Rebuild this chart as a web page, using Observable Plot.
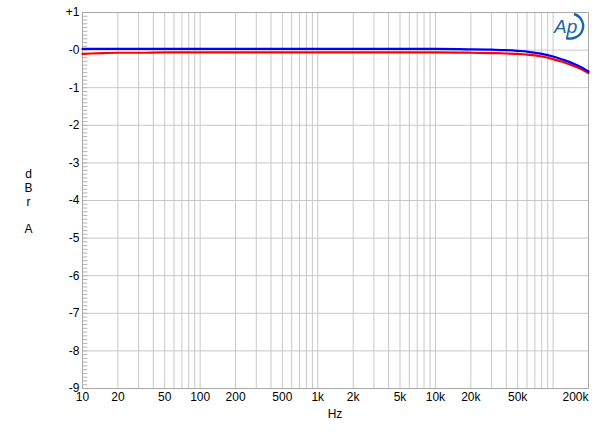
<!DOCTYPE html>
<html>
<head>
<meta charset="utf-8">
<script src="https://cdn.jsdelivr.net/npm/d3@7"></script>
<script src="https://cdn.jsdelivr.net/npm/@observablehq/plot@0.6"></script>
<style>
  html, body { margin: 0; padding: 0; background: #fff; }
  #chart { position: relative; width: 600px; height: 432px; }
  #logo { position: absolute; left: 553px; top: 11px; }
</style>
</head>
<body>
<div id="chart"></div>
<script>
const freqs = [10, 12, 15, 20, 30, 50, 100, 200, 500, 1000, 2000, 5000, 10000, 20000, 30000, 40000, 50000, 60000, 70000, 80000, 100000, 120000, 150000, 175000, 200000];
const blueDb = [0.03, 0.03, 0.03, 0.03, 0.03, 0.03, 0.03, 0.03, 0.03, 0.03, 0.03, 0.03, 0.03, 0.02, 0.01, 0.0, -0.02, -0.04, -0.07, -0.1, -0.17, -0.25, -0.36, -0.46, -0.57];
const redDb = [-0.1, -0.09, -0.08, -0.07, -0.07, -0.06, -0.06, -0.06, -0.06, -0.06, -0.06, -0.06, -0.06, -0.07, -0.08, -0.09, -0.1, -0.12, -0.14, -0.17, -0.24, -0.31, -0.42, -0.51, -0.61];

const xTickValues = [10, 20, 50, 100, 200, 500, 1000, 2000, 5000, 10000, 20000, 50000, 200000];
const xTickLabels = ["10", "20", "50", "100", "200", "500", "1k", "2k", "5k", "10k", "20k", "50k", "200k"];
const yTickValues = [1, 0, -1, -2, -3, -4, -5, -6, -7, -8, -9];
const yTickLabels = ["+1", "-0", "-1", "-2", "-3", "-4", "-5", "-6", "-7", "-8", "-9"];

const xGrid = [];
for (let d = 10; d <= 100000; d *= 10) for (let m = 1; m <= 9; m++) if (d * m <= 200000) xGrid.push(d * m);
xGrid.push(200000);
const yMinor = d3.range(-90, 11).map(v => v / 10);

const rows = [];
freqs.forEach((f, i) => { rows.push({f, db: redDb[i], ch: "red"}); });
freqs.forEach((f, i) => { rows.push({f, db: blueDb[i], ch: "blue"}); });

const xLabelRows = xTickValues.map((v, i) => ({v, label: xTickLabels[i], last: i === xTickValues.length - 1}));
const yLabelRows = yTickValues.map((v, i) => ({v, label: yTickLabels[i]}));

const font = "Arial, 'Liberation Sans', sans-serif";

const plot = Plot.plot({
  width: 600,
  height: 432,
  marginLeft: 82,
  marginRight: 12,
  marginTop: 12,
  marginBottom: 44,
  style: {fontFamily: font, fontSize: "12px", color: "#000", background: "#fff"},
  x: {type: "log", domain: [10, 200000], axis: null},
  y: {domain: [-9, 1], axis: null},
  marks: [
    Plot.ruleX(xGrid, {stroke: "#c8c8c8", strokeWidth: 1}),
    Plot.ruleY(yTickValues, {stroke: "#c8c8c8", strokeWidth: 1}),
    Plot.link(yMinor, {x1: () => 10, x2: () => 11, y1: d => d, y2: d => d, stroke: "#b4b4b4", strokeWidth: 1}),
    Plot.frame({stroke: "#a8a8a8", strokeWidth: 1}),
    Plot.line(rows, {x: "f", y: "db", z: "ch", stroke: "ch", strokeWidth: 2.2, curve: "monotone-x"}),
    Plot.text(yLabelRows, {y: "v", text: "label", frameAnchor: "left", dx: -3, textAnchor: "end", fill: "#000", fontSize: 12}),
    Plot.text(xLabelRows.filter(d => !d.last), {x: "v", text: "label", frameAnchor: "bottom", dy: 12, fill: "#000", fontSize: 12}),
    Plot.text(xLabelRows.filter(d => d.last), {x: "v", text: "label", frameAnchor: "bottom", dy: 12, textAnchor: "end", fill: "#000", fontSize: 12}),
    Plot.text(["Hz"], {x: 1400, frameAnchor: "bottom", dy: 29, fontSize: 12, fill: "#000"}),
    Plot.text(["d\nB\nr\n\nA"], {y: -4.02, frameAnchor: "left", dx: -54, textAnchor: "middle", lineHeight: 1.15, fontSize: 12, fill: "#000"})
  ]
});
plot.setAttribute("font-family", font);
document.getElementById("chart").appendChild(plot);

const logo = document.createElementNS("http://www.w3.org/2000/svg", "svg");
logo.setAttribute("id", "logo");
logo.setAttribute("width", "34");
logo.setAttribute("height", "30");
logo.innerHTML = `
  <path d="M 21 3 A 12 11.5 0 0 1 13 27" fill="none" stroke="#1a63ad" stroke-width="2.4"/>
  <text x="1" y="22" font-family="Arial, 'Liberation Sans', sans-serif" font-style="italic" font-size="19" fill="#1a63ad">Ap</text>`;
document.getElementById("chart").appendChild(logo);
</script>
</body>
</html>
